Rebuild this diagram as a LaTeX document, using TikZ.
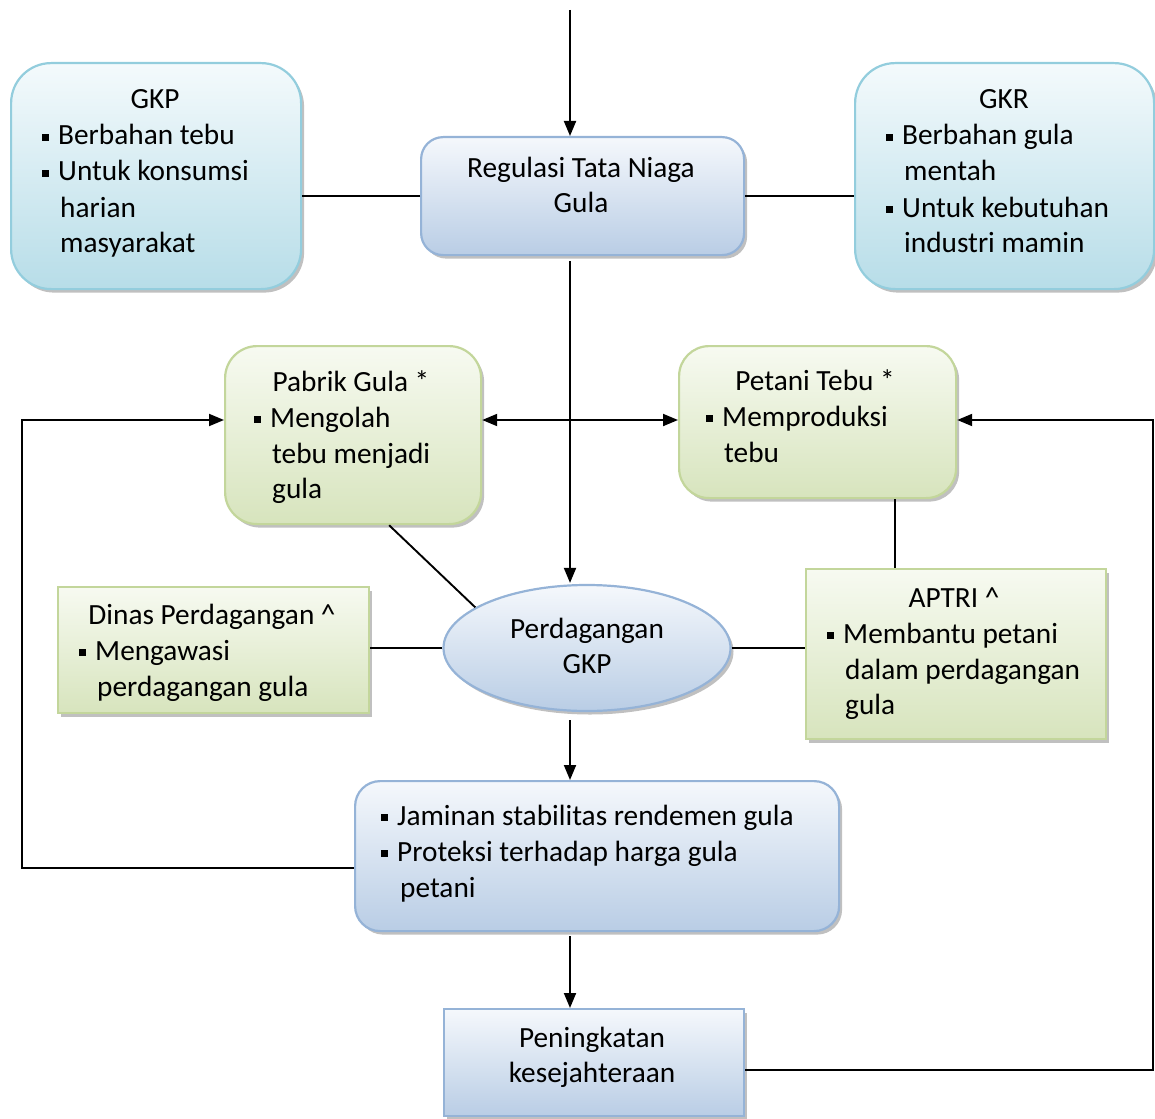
\documentclass[tikz,border=0pt]{standalone}
\usepackage{fontspec}
\setmainfont{Carlito}
\usetikzlibrary{arrows.meta,shapes.geometric,shadows,calc}
\definecolor{bluetop}{HTML}{F5F8FC}
\definecolor{bluebot}{HTML}{B9CDE5}
\definecolor{blueline}{HTML}{95B3D7}
\definecolor{cyantop}{HTML}{F4FAFC}
\definecolor{cyanbot}{HTML}{B7DDE8}
\definecolor{cyanline}{HTML}{93CDDD}
\definecolor{greentop}{HTML}{F7FAF1}
\definecolor{greenbot}{HTML}{D7E4BD}
\definecolor{greenline}{HTML}{C3D69B}
\definecolor{shadowc}{HTML}{8C8C8C}
\newcommand{\bul}{\makebox[16pt][l]{\rule[4pt]{7pt}{7pt}}}
\begin{document}
\begin{tikzpicture}[x=1pt,y=-1pt,
  font=\fontsize{29.3}{36}\selectfont,
  box/.style={draw, line width=2.2pt, anchor=north west, inner sep=0pt,
    drop shadow={shadow xshift=3pt, shadow yshift=-3.5pt, opacity=0.55, fill=shadowc}},
  bluebox/.style={box, draw=blueline, top color=bluetop, bottom color=bluebot},
  cyanbox/.style={box, draw=cyanline, top color=cyantop, bottom color=cyanbot},
  greenbox/.style={box, draw=greenline, top color=greentop, bottom color=greenbot},
  blueell/.style={ellipse, draw=blueline, line width=2.2pt, inner sep=0pt,
    top color=bluetop, bottom color=bluebot,
    drop shadow={shadow xshift=3pt, shadow yshift=-3.5pt, opacity=0.55, fill=shadowc}},
  conn/.style={line width=1.9pt, black},
  arr/.style={conn, -{Triangle[length=15pt,width=12pt]}},
  arrs/.style={conn, {Triangle[length=15pt,width=12pt]}-{Triangle[length=15pt,width=12pt]}},
  txt/.style={inner sep=0pt, anchor=base west},
  ctxt/.style={inner sep=0pt, anchor=base}]
\useasboundingbox (0,0) rectangle (1155,1118);

% boxes
\node[cyanbox, rounded corners=40pt, minimum width=290pt, minimum height=226pt] (gkp) at (10,62) {};
\node[cyanbox, rounded corners=40pt, minimum width=299pt, minimum height=226pt] (gkr) at (854,62) {};
\node[bluebox, rounded corners=22pt, minimum width=323pt, minimum height=118pt] (reg) at (420,136) {};
\node[greenbox, rounded corners=32pt, minimum width=256pt, minimum height=178pt] (pab) at (224,345) {};
\node[greenbox, rounded corners=30pt, minimum width=277pt, minimum height=152pt] (pet) at (678,345) {};
\node[greenbox, minimum width=311pt, minimum height=126pt] (din) at (57,586) {};
\node[greenbox, minimum width=300pt, minimum height=170pt] (apt) at (805,568) {};
\node[blueell, minimum width=287pt, minimum height=126pt] (ell) at (587,648) {};
\node[bluebox, rounded corners=25pt, minimum width=484pt, minimum height=150pt] (jam) at (354,780) {};
\node[bluebox, minimum width=300pt, minimum height=107pt] (pen) at (443,1008) {};

% texts
\node[ctxt] (gkp0) at (155,109) {GKP};
\node[txt] (gkp1) at (42,145) {\bul Berbahan tebu};
\node[txt] (gkp2) at (42,181) {\bul Untuk konsumsi};
\node[txt] (gkp3) at (60,217) {harian};
\node[txt] (gkp4) at (60,252) {masyarakat};

\node[ctxt] (gkr0) at (1004,109) {GKR};
\node[txt] (gkr1) at (886,145) {\bul Berbahan gula};
\node[txt] (gkr2) at (904,181) {mentah};
\node[txt] (gkr3) at (886,217) {\bul Untuk kebutuhan};
\node[txt] (gkr4) at (904,252) {industri mamin};

\node[ctxt] (reg1) at (581,177) {Regulasi Tata Niaga};
\node[ctxt] (reg2) at (581,212) {Gula};

\node[ctxt] (pab0) at (351,391) {Pabrik Gula *};
\node[txt] (pab1) at (254,427) {\bul Mengolah};
\node[txt] (pab2) at (272,463) {tebu menjadi};
\node[txt] (pab3) at (272,498) {gula};

\node[ctxt] (pet0) at (815,390) {Petani Tebu *};
\node[txt] (pet1) at (706,426) {\bul Memproduksi};
\node[txt] (pet2) at (724,462) {tebu};

\node[ctxt] (din0) at (212,624) {Dinas Perdagangan \^{}};
\node[txt] (din1) at (79,660) {\bul Mengawasi};
\node[txt] (din2) at (97,696) {perdagangan gula};

\node[ctxt] (ell1) at (587,638) {Perdagangan};
\node[ctxt] (ell2) at (587,673) {GKP};

\node[ctxt] (apt0) at (954,607) {APTRI \^{}};
\node[txt] (apt1) at (827,643) {\bul Membantu petani};
\node[txt] (apt2) at (845,679) {dalam perdagangan};
\node[txt] (apt3) at (845,714) {gula};

\node[txt] (jam1) at (381,825) {\bul Jaminan stabilitas rendemen gula};
\node[txt] (jam2) at (381,861) {\bul Proteksi terhadap harga gula};
\node[txt] (jam3) at (400,897) {petani};

\node[ctxt] (pen1) at (592,1047) {Peningkatan};
\node[ctxt] (pen2) at (592,1082) {kesejahteraan};

% helper coordinates
\coordinate (top) at (570,10);
\coordinate (h) at (0,420);
\coordinate (lx) at (22,868);
\coordinate (rx) at (1153,1070);

% connectors
\draw[arr] (top) -- (top |- reg.north);
\draw[conn] (reg.west) -- (reg.west -| gkp.east);
\draw[conn] (reg.east) -- (reg.east -| gkr.west);
\draw[arr] ([yshift=-5pt]top |- reg.south) -- ([yshift=1pt]top |- ell.north);
\draw[arrs] (h -| pab.east) -- (h -| pet.west);
\draw[conn] ([xshift=36pt]pab.south) -- (ell.160);
\draw[conn] ([xshift=77pt]pet.south) -- ([xshift=77pt]pet.south |- apt.north);
\draw[conn] (ell.west) -- (ell.west -| din.east);
\draw[conn] (ell.east) -- (ell.east -| apt.west);
\draw[arr] ([yshift=-8pt]top |- ell.south) -- (top |- jam.north);
\draw[arr] ([yshift=-4pt]top |- jam.south) -- (top |- pen.north);
\draw[arr] (jam.west |- lx) -- (lx) -- (lx |- h) -- (h -| pab.west);
\draw[arr] (pen.east |- rx) -- (rx) -- (rx |- h) -- (h -| pet.east);
\end{tikzpicture}
\end{document}
